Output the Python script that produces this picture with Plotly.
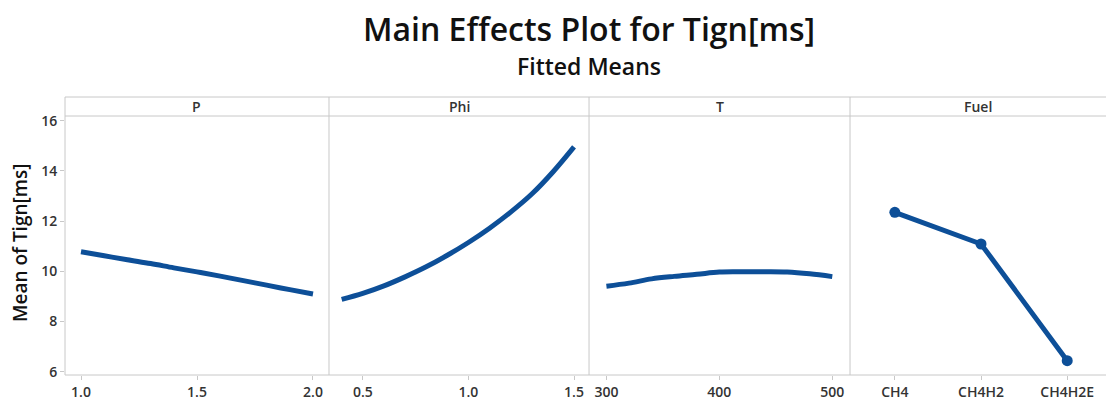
import plotly.graph_objects as go
from plotly.subplots import make_subplots

# fitted means
p_x = [1.0, 1.1, 1.2, 1.3, 1.4, 1.5, 1.6, 1.7, 1.8, 1.9, 2.0]
p_y = [10.78, 10.62, 10.46, 10.31, 10.14, 9.98, 9.81, 9.63, 9.45, 9.27, 9.10]

phi_x = [0.4, 0.5, 0.6, 0.7, 0.8, 0.9, 1.0, 1.1, 1.2, 1.3, 1.4, 1.5]
phi_y = [8.88, 9.12, 9.42, 9.78, 10.18, 10.64, 11.15, 11.72, 12.36, 13.08, 13.96, 14.96]

t_x = [300, 320, 340, 360, 380, 400, 420, 440, 460, 480, 500]
t_y = [9.41, 9.53, 9.70, 9.80, 9.88, 9.97, 9.98, 9.98, 9.97, 9.90, 9.79]

fuel_x = ["CH4", "CH4H2", "CH4H2E"]
fuel_y = [12.35, 11.09, 6.44]

panels = ["P", "Phi", "T", "Fuel"]

BLUE = "#0d4f98"
GRID = "#c8c8c8"
TXT = "#333333"
FONT = "Open Sans"

bounds = [0.0, 0.2536, 0.5034, 0.7541, 1.0]

fig = make_subplots(rows=1, cols=4, horizontal_spacing=0)

fig.add_trace(go.Scatter(x=p_x, y=p_y, mode="lines",
                         line=dict(color=BLUE, width=5, shape="spline")), 1, 1)
fig.add_trace(go.Scatter(x=phi_x, y=phi_y, mode="lines",
                         line=dict(color=BLUE, width=5, shape="spline")), 1, 2)
fig.add_trace(go.Scatter(x=t_x, y=t_y, mode="lines",
                         line=dict(color=BLUE, width=5, shape="spline")), 1, 3)
fig.add_trace(go.Scatter(x=[0, 1, 2], y=fuel_y, mode="lines+markers",
                         line=dict(color=BLUE, width=5),
                         marker=dict(color=BLUE, size=11)), 1, 4)

x_ranges = [[0.931, 2.069], [0.34, 1.571], [284.6, 515.7], [-0.52, 2.45]]
x_ticks = [dict(tickvals=[1.0, 1.5, 2.0], ticktext=["1.0", "1.5", "2.0"]),
           dict(tickvals=[0.5, 1.0, 1.5], ticktext=["0.5", "1.0", "1.5"]),
           dict(tickvals=[300, 400, 500], ticktext=["300", "400", "500"]),
           dict(tickvals=[0, 1, 2], ticktext=fuel_x)]

tickfont = dict(family=FONT, size=14, color=TXT, weight=600)

for i in range(4):
    ax = "xaxis" if i == 0 else "xaxis%d" % (i + 1)
    ay = "yaxis" if i == 0 else "yaxis%d" % (i + 1)
    fig.layout[ax].update(domain=[bounds[i], bounds[i + 1]], range=x_ranges[i],
                          showgrid=False, zeroline=False, showline=False,
                          ticks="outside", ticklen=4, tickcolor=GRID,
                          tickfont=tickfont, **x_ticks[i])
    fig.layout[ay].update(range=[5.87, 16.19], showgrid=False, zeroline=False,
                          showline=False, showticklabels=(i == 0),
                          ticks="outside" if i == 0 else "", ticklen=4,
                          tickcolor=GRID, tickvals=[6, 8, 10, 12, 14, 16],
                          tickfont=tickfont)

strip_top = 1 + 19 / 259
shapes = []
# bottom line, strip lines
shapes.append(dict(type="line", xref="paper", yref="paper", x0=0, x1=1, y0=0, y1=0,
                   line=dict(color=GRID, width=1)))
shapes.append(dict(type="line", xref="paper", yref="paper", x0=0, x1=1, y0=1, y1=1,
                   line=dict(color=GRID, width=1)))
shapes.append(dict(type="line", xref="paper", yref="paper", x0=0, x1=1,
                   y0=strip_top, y1=strip_top, line=dict(color=GRID, width=1)))
for b in bounds[:-1]:
    shapes.append(dict(type="line", xref="paper", yref="paper", x0=b, x1=b,
                       y0=0, y1=strip_top, line=dict(color=GRID, width=1)))

annotations = []
for i, name in enumerate(panels):
    annotations.append(dict(text=name, xref="paper", yref="paper",
                            x=(bounds[i] + bounds[i + 1]) / 2, y=(1 + strip_top) / 2,
                            xanchor="center", yanchor="middle", showarrow=False,
                            font=dict(family=FONT, size=14, color=TXT, weight=600)))

annotations.append(dict(text="Main Effects Plot for Tign[ms]", xref="paper", yref="paper",
                        x=(589 - 65) / 1041, y=(375 - 28) / 259,
                        xanchor="center", yanchor="middle", showarrow=False,
                        font=dict(family=FONT, size=32, color="#111111", weight=600)))
annotations.append(dict(text="Fitted Means", xref="paper", yref="paper",
                        x=(589 - 65) / 1041, y=(375 - 66) / 259,
                        xanchor="center", yanchor="middle", showarrow=False,
                        font=dict(family=FONT, size=23, color="#111111", weight=600)))
annotations.append(dict(text="Mean of Tign[ms]", xref="paper", yref="paper",
                        x=(20 - 65) / 1041, y=(375 - 243) / 259,
                        xanchor="center", yanchor="middle", showarrow=False,
                        textangle=-90,
                        font=dict(family=FONT, size=19, color="#111111", weight=600)))

fig.update_layout(width=1106, height=400, showlegend=False,
                  margin=dict(l=65, r=0, t=116, b=25),
                  paper_bgcolor="white", plot_bgcolor="white",
                  shapes=shapes, annotations=annotations)

fig.write_html("out.html", config={"displayModeBar": False},
               post_script="document.body.style.margin='0';")
